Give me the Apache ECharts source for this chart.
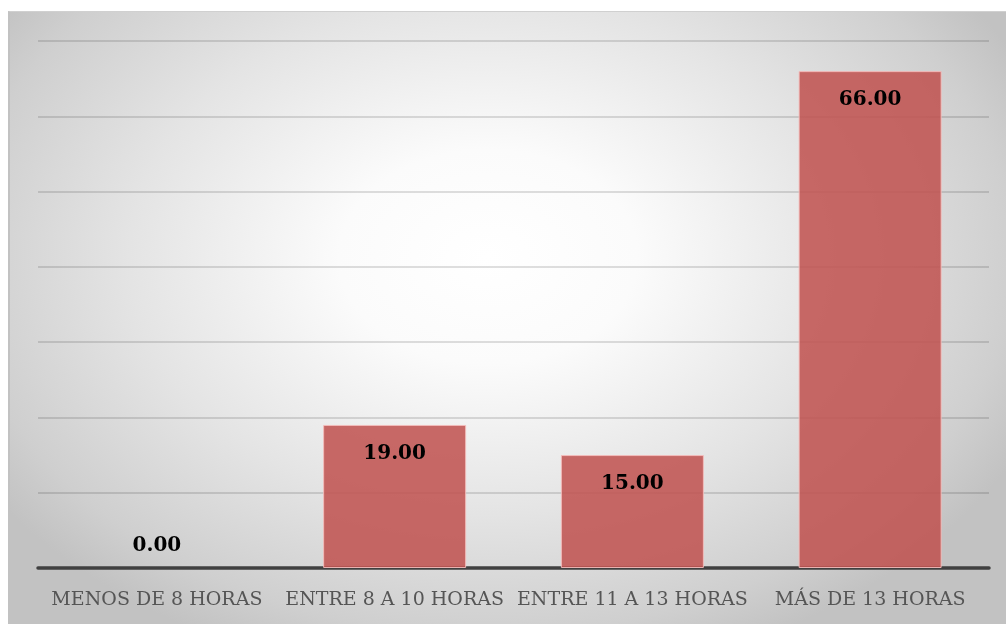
<!DOCTYPE html>
<html><head><meta charset="utf-8">
<script src="https://cdn.jsdelivr.net/npm/echarts@6/dist/echarts.min.js"></script>
<style>
html,body{margin:0;padding:0;background:#fff;}
#wrap{position:absolute;left:8px;top:11px;width:998px;height:613px;
background:radial-gradient(ellipse 60% 70% at 48% 40%, #ffffff 0%, #fbfbfb 25%, #e4e4e4 60%, #cfcfcf 88%, #c2c2c2 100%);
border-left:2px solid #c2c2c2;border-top:1px solid #d0d0d0;box-sizing:border-box;}
#main{position:absolute;left:0;top:0;width:1006px;height:624px;}
</style></head>
<body>
<div id="wrap"></div>
<div id="main"></div>
<script>
const categories = ['MENOS DE 8 HORAS', 'ENTRE 8 A 10 HORAS', 'ENTRE 11 A 13 HORAS', 'MÁS DE 13 HORAS'];
const values = [0, 19, 15, 66];
const yMax = 70;
const yInterval = 10;

const chart = echarts.init(document.getElementById('main'), null, {renderer: 'canvas'});
const items = values.map(v => v === 0
  ? {value: v, label: {position: 'top', distance: 12}, itemStyle: {borderWidth: 0}}
  : {value: v});
chart.setOption({
  backgroundColor: 'transparent',
  animation: false,
  grid: {left: 38, right: 17, top: 41, bottom: 56, containLabel: false},
  xAxis: {
    type: 'category', data: categories,
    axisLine: {show: true, onZero: false, lineStyle: {color: '#404040', width: 3.5}},
    axisTick: {show: false},
    axisLabel: {interval: 0, color: '#555555', fontFamily: 'DejaVu Serif', fontSize: 19, margin: 23}
  },
  yAxis: {
    type: 'value', min: 0, max: yMax, interval: yInterval,
    axisLine: {show: false}, axisTick: {show: false}, axisLabel: {show: false},
    splitLine: {lineStyle: {color: 'rgba(0,0,0,0.17)', width: 1.5}}
  },
  series: [{
    type: 'bar', data: items, barWidth: 143,
    itemStyle: {color: 'rgba(192,80,77,0.85)', borderColor: 'rgba(245,190,188,0.9)', borderWidth: 1},
    label: {show: true, position: 'insideTop', distance: 19, color: '#000',
      fontFamily: 'DejaVu Serif', fontWeight: 'bold', fontSize: 20,
      formatter: p => Number(p.value).toFixed(2)}
  }]
});
</script>
</body></html>
